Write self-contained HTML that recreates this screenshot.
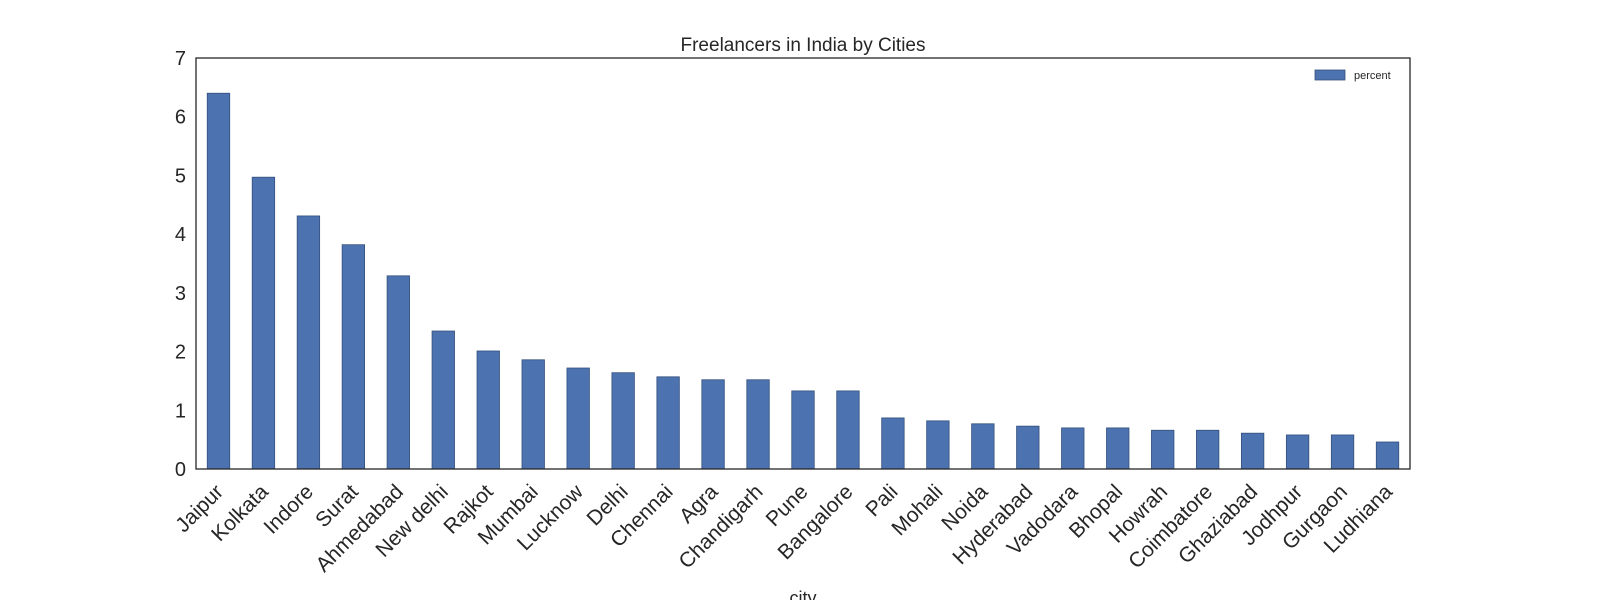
<!DOCTYPE html>
<html><head><meta charset="utf-8"><style>
body{margin:0;background:#fff;}
svg{display:block;font-family:"Liberation Sans",Arial,sans-serif;}
</style></head><body>
<svg id="chart" width="1600" height="600">
<text x="803" y="51" font-size="19" text-anchor="middle" fill="#262626">Freelancers in India by Cities</text>
<g id="bars"></g>
<g id="yticks"></g>
<g id="xticks"></g>
<rect x="196" y="58" width="1214" height="411" fill="none" stroke="#262626" stroke-width="1.3"/>
<g>
<rect x="1315" y="70" width="30" height="10" fill="#4c72b0" stroke="#34507c" stroke-width="0.8"/>
<text x="1354" y="79" font-size="11" fill="#262626">percent</text>
</g>
<text x="803" y="604" font-size="18" text-anchor="middle" fill="#262626">city</text>
</svg>
<script>
const categories=["Jaipur","Kolkata","Indore","Surat","Ahmedabad","New delhi","Rajkot","Mumbai","Lucknow","Delhi","Chennai","Agra","Chandigarh","Pune","Bangalore","Pali","Mohali","Noida","Hyderabad","Vadodara","Bhopal","Howrah","Coimbatore","Ghaziabad","Jodhpur","Gurgaon","Ludhiana"];
const percentValues=[6.40,4.97,4.31,3.82,3.29,2.35,2.01,1.86,1.72,1.64,1.57,1.52,1.52,1.33,1.33,0.87,0.82,0.77,0.73,0.70,0.70,0.66,0.66,0.61,0.58,0.58,0.46];
const yTickLabels=[0,1,2,3,4,5,6,7];
const NS="http://www.w3.org/2000/svg";
const L=196,R=1410,T=58,B=469,YMAX=7;
const slot=(R-L)/categories.length;
function xc(i){return L+slot*(i+0.5);}
function y(v){return B-(v/YMAX)*(B-T);}
function mk(t,a){const e=document.createElementNS(NS,t);for(const k in a)e.setAttribute(k,a[k]);return e;}
const gb=document.getElementById('bars'),gy=document.getElementById('yticks'),gx=document.getElementById('xticks');
percentValues.forEach((v,i)=>{
 const r=mk('rect',{x:xc(i)-slot/4,y:y(v),width:slot/2,height:B-y(v),fill:'#4c72b0',stroke:'#34507c','stroke-width':0.8});
 
 
 gb.appendChild(r);
});
yTickLabels.forEach(t=>{
 const tx=mk('text',{x:186,y:y(t)+7,'font-size':20,'text-anchor':'end',fill:'#262626'});
 tx.textContent=t;
 
 
 gy.appendChild(tx);
});
categories.forEach((c,i)=>{
 const x=xc(i)+6,yy=B+24;
 const tx=mk('text',{x:x,y:yy,'font-size':21,'text-anchor':'end',fill:'#262626',transform:'rotate(-45 '+x+' '+yy+')'});
 tx.textContent=c;
 
 
 gx.appendChild(tx);
});
</script>
</body></html>
